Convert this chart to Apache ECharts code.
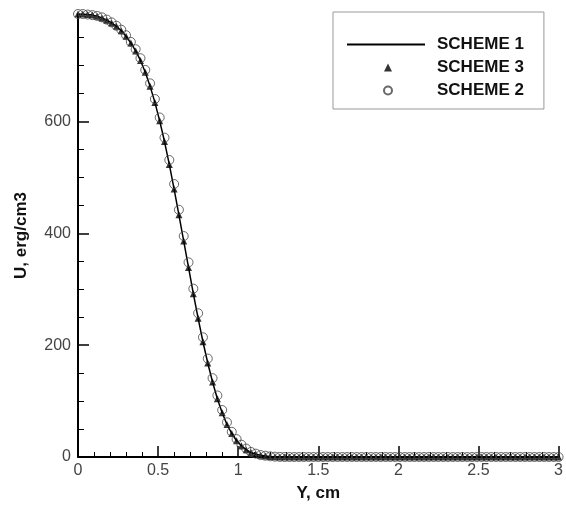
<!DOCTYPE html>
<html><head><meta charset="utf-8">
<script src="https://cdn.jsdelivr.net/npm/echarts@6/dist/echarts.min.js"></script>
<style>html,body{margin:0;padding:0;background:#fff}#c{width:566px;height:507px}</style>
</head><body><div id="c"></div>
<script>
var yPos = [0,0.03,0.06,0.09,0.12,0.15,0.18,0.21,0.24,0.27,0.3,0.33,0.36,0.39,0.42,0.45,0.48,0.51,0.54,0.57,0.6,0.63,0.66,0.69,0.72,0.75,0.78,0.81,0.84,0.87,0.9,0.93,0.96,0.99,1.02,1.05,1.08,1.11,1.14,1.17,1.2,1.23,1.26,1.29,1.32,1.35,1.38,1.41,1.44,1.47,1.5,1.53,1.56,1.59,1.62,1.65,1.68,1.71,1.74,1.77,1.8,1.83,1.86,1.89,1.92,1.95,1.98,2.01,2.04,2.07,2.1,2.13,2.16,2.19,2.22,2.25,2.28,2.31,2.34,2.37,2.4,2.43,2.46,2.49,2.52,2.55,2.58,2.61,2.64,2.67,2.7,2.73,2.76,2.79,2.82,2.85,2.88,2.91,2.94,2.97,3.0];
var scheme1 = [792,792,791,790,788,785,781,776,770,762,752,740,726,709,688,663,634,601,564,523,479,433,386,339,292,248,206,168,134,104,79,58,42,29,20,13,8,5,3,2,1,0.5,0.2,0,0,0,0,0,0,0,0,0,0,0,0,0,0,0,0,0,0,0,0,0,0,0,0,0,0,0,0,0,0,0,0,0,0,0,0,0,0,0,0,0,0,0,0,0,0,0,0,0,0,0,0,0,0,0,0,0,0];
var scheme3 = [792,792,791,790,788,785,781,776,770,762,752,740,726,709,688,663,634,601,564,523,479,433,386,339,292,248,206,168,134,104,79,58,42,29,20,13,8,5,3,2,1,0.5,0.2,0,0,0,0,0,0,0,0,0,0,0,0,0,0,0,0,0,0,0,0,0,0,0,0,0,0,0,0,0,0,0,0,0,0,0,0,0,0,0,0,0,0,0,0,0,0,0,0,0,0,0,0,0,0,0,0,0,0];
var scheme2 = [792,792,791,790,788.5,786,782,777,771,764,754,742,729,713,692,668,640,607,571,531,488,442,395,348,301,257,214,176,141,110,84,62,45,32,22,15,9,6,3.5,2.3,1.2,0.6,0.2,0,0,0,0,0,0,0,0,0,0,0,0,0,0,0,0,0,0,0,0,0,0,0,0,0,0,0,0,0,0,0,0,0,0,0,0,0,0,0,0,0,0,0,0,0,0,0,0,0,0,0,0,0,0,0,0,0,0];
var yMajor = [0,200,400,600];
var yMinor = [50,100,150,250,300,350,450,500,550,650,700,750];
var seriesNames = ['SCHEME 1','SCHEME 3','SCHEME 2'];

function pairs(xs, vs){ return xs.map(function(x,i){ return [x, vs[i]]; }); }

var FONT = '"Liberation Sans", Arial, sans-serif';
var legendText = {fontFamily:FONT, fontSize:17, fontWeight:'bold', color:'#111', padding:[0,0,0,7]};
var chart = echarts.init(document.getElementById('c'), null, {renderer:'canvas'});
chart.setOption({
  animation:false,
  backgroundColor:'#fff',
  grid:{left:78, right:5, top:14, bottom:50},
  legend:[{
    orient:'vertical', left:333, top:12,
    padding:[24,20,10,14],
    borderColor:'#999', borderWidth:1,
    itemWidth:78, itemHeight:7, itemGap:6,
    selectedMode:false,
    data:[
      {name:seriesNames[0], icon:'path://M0,0L78,0L78,2L0,2Z', itemStyle:{color:'#000'}},
      {name:seriesNames[1], itemStyle:{opacity:0}},
      {name:seriesNames[2], itemStyle:{opacity:0, borderWidth:0}}
    ],
    textStyle:legendText
  },{
    orient:'vertical', left:383, top:59,
    padding:0,
    itemWidth:8, itemHeight:8, itemGap:6,
    selectedMode:false,
    data:[
      {name:seriesNames[1], icon:'triangle'},
      {name:seriesNames[2], icon:'circle'}
    ],
    textStyle:{fontFamily:FONT, fontSize:17, fontWeight:'bold', color:'rgba(0,0,0,0)'}
  }],
  xAxis:{
    type:'value', min:0, max:3, interval:0.5,
    name:'Y, cm', nameLocation:'middle', nameGap:28,
    nameTextStyle:{fontFamily:FONT, fontSize:17, fontWeight:'bold', color:'#111'},
    axisLine:{lineStyle:{color:'#000', width:2}},
    axisTick:{inside:true, length:11, lineStyle:{color:'#000', width:1.5}},
    minorTick:{show:true, splitNumber:5, length:5, lineStyle:{color:'#000', width:1}},
    axisLabel:{fontFamily:FONT, fontSize:16, color:'#444', margin:6},
    splitLine:{show:false}
  },
  yAxis:[{
    type:'value', min:0, max:792,
    name:'U, erg/cm3', nameLocation:'middle', nameGap:48, nameRotate:90,
    nameTextStyle:{fontFamily:FONT, fontSize:17, fontWeight:'bold', color:'#111'},
    axisLine:{show:true, lineStyle:{color:'#000', width:2}},
    axisTick:{show:true, inside:true, length:11, customValues:yMajor, lineStyle:{color:'#000', width:1.5}},
    axisLabel:{fontFamily:FONT, fontSize:16, color:'#444', margin:7, customValues:yMajor},
    splitLine:{show:false}
  },{
    type:'value', min:0, max:792, position:'left',
    axisLine:{show:false},
    axisTick:{show:true, inside:true, length:6, customValues:yMinor, lineStyle:{color:'#000', width:1}},
    axisLabel:{show:false},
    splitLine:{show:false}
  }],
  series:[
    {name:seriesNames[0], type:'line', data:pairs(yPos, scheme1), showSymbol:false, symbol:'none',
     lineStyle:{color:'#000', width:1.5}, itemStyle:{color:'#000'}, z:2},
    {name:seriesNames[1], type:'scatter', data:pairs(yPos, scheme3), symbol:'triangle', symbolSize:7,
     itemStyle:{color:'#000'}, z:3},
    {name:seriesNames[2], type:'scatter', data:pairs(yPos, scheme2), symbol:'circle', symbolSize:9,
     itemStyle:{color:'rgba(0,0,0,0)', borderColor:'#444', borderWidth:1}, z:4}
  ]
});
</script></body></html>
